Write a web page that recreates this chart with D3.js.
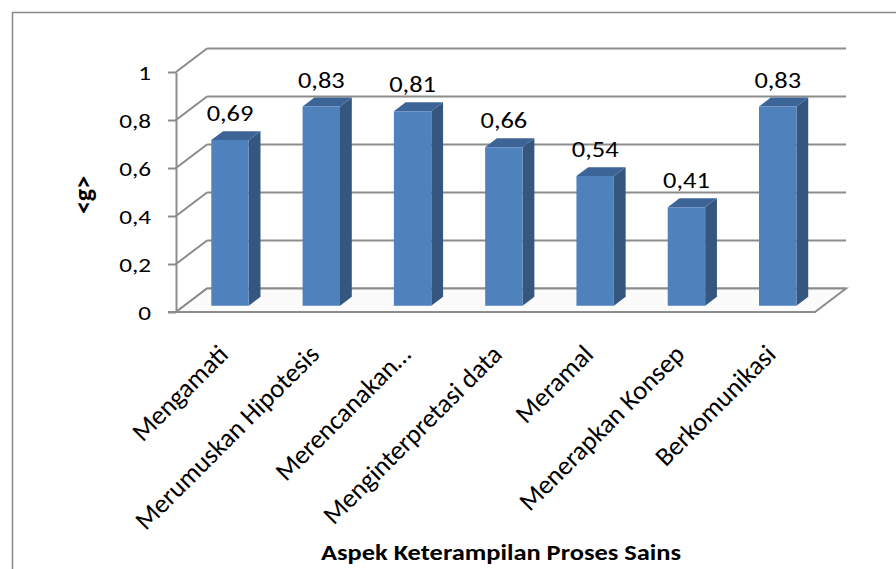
<!DOCTYPE html>
<html>
<head>
<meta charset="utf-8">
<script src="https://cdn.jsdelivr.net/npm/d3@7"></script>
<style>
  html, body { margin: 0; padding: 0; background: #fff; }
  svg { display: block; }
  text { font-family: Carlito, Calibri, Lato, "Open Sans", sans-serif; fill: #000; }
</style>
</head>
<body>
<svg id="chart" width="896" height="569"></svg>
<script>
// Aspek keterampilan proses sains and their normalized gain <g>
const categories = [
  "Mengamati",
  "Merumuskan Hipotesis",
  "Merencanakan…",
  "Menginterpretasi data",
  "Meramal",
  "Menerapkan Konsep",
  "Berkomunikasi"
];
const gainValues = [0.69, 0.83, 0.81, 0.66, 0.54, 0.41, 0.83];
const yTicks = [0, 0.2, 0.4, 0.6, 0.8, 1];
const yTitle = "<g>";
const xTitle = "Aspek Keterampilan Proses Sains";

const svg = d3.select("#chart");
const grid = "#8c8c8c";

// decimal comma formatting
const locale = d3.formatLocale({ decimal: ",", thousands: ".", grouping: [3], currency: ["", ""] });
const fmtTick = locale.format("~g");
const fmtVal = locale.format(".2f");

// front plane scales
const x = d3.scaleBand().domain(categories).range([176, 815]).padding(0);
const y = d3.scaleLinear().domain([0, 1]).range([312, 72]);

// oblique depth projection: depth 0 = front plane, 1 = back wall
const DX = 31, DY = -23.5;
const proj = (px, py, d) => [px + DX * d, py + DY * d];

// chart area frame
svg.append("rect")
  .attr("x", 12.5).attr("y", 12.5)
  .attr("width", 900).attr("height", 600)
  .attr("fill", "none").attr("stroke", "#8a8a8a").attr("stroke-width", 1.5);

const [x0, x1] = x.range();

// back wall gridlines
const gBack = svg.append("g").attr("stroke", grid).attr("stroke-width", 2).attr("fill", "none");
yTicks.forEach(t => {
  const a = proj(x0, y(t), 1), b = proj(x1, y(t), 1);
  gBack.append("line").attr("x1", a[0]).attr("y1", a[1]).attr("x2", b[0]).attr("y2", b[1]);
});
// side wall gridlines
yTicks.forEach(t => {
  const b = proj(x0, y(t), 1);
  gBack.append("line").attr("x1", x0).attr("y1", y(t)).attr("x2", b[0]).attr("y2", b[1]);
});
// floor
const floorPts = [proj(x0, y(0), 0), proj(x1, y(0), 0), proj(x1, y(0), 1), proj(x0, y(0), 1)];
svg.append("polygon")
  .attr("points", floorPts.map(p => p.join(",")).join(" "))
  .attr("fill", "#fbfbfb").attr("stroke", grid).attr("stroke-width", 2);

// bars
const bw = x.bandwidth() * 0.41;
const D0 = 0.27, D1 = 0.65;
const bars = svg.append("g");
categories.forEach((c, i) => {
  const v = gainValues[i];
  const left = x(c) + (x.bandwidth() - bw) / 2;
  const right = left + bw;
  const top = y(v), base = y(0);
  const fTL = proj(left, top, D0), fTR = proj(right, top, D0);
  const fBR = proj(right, base, D0), fBL = proj(left, base, D0);
  const bTL = proj(left, top, D1), bTR = proj(right, top, D1), bBR = proj(right, base, D1);
  const poly = (pts, fill) => bars.append("polygon")
    .attr("points", pts.map(p => p.join(",")).join(" ")).attr("fill", fill);
  poly([fTR, bTR, bBR, fBR], "#34567f");           // side
  poly([fTL, fTR, bTR, bTL], "#3d6496");           // top
  poly([fTL, fTR, fBR, fBL], "#4f81bd");           // front
  // value label
  const cx = (fTL[0] + fTR[0]) / 2;
  svg.append("text")
    .attr("transform", `translate(${cx},${bTL[1] - 10}) scale(1.2,1)`)
    .attr("text-anchor", "middle")
    .style("font-size", "22px")
    .text(fmtVal(v));
});

// front value axis
const yAxis = d3.axisLeft(y).tickValues(yTicks).tickFormat(fmtTick)
  .tickSize(8).tickSizeOuter(0).tickPadding(17);
const ga = svg.append("g").attr("transform", `translate(${x0},0)`).call(yAxis);
ga.select(".domain").attr("stroke", grid).attr("stroke-width", 2);
ga.selectAll(".tick line").attr("stroke", grid).attr("stroke-width", 2);
ga.selectAll(".tick text")
  .attr("x", null).attr("dy", "0.35em")
  .attr("transform", "translate(-25,0) scale(1.2,1)")
  .style("font-size", "21px")
  .style("font-family", "Carlito, Calibri, Lato, 'Open Sans', sans-serif")
  .attr("fill", "#000");

// front baseline
svg.append("line")
  .attr("x1", x0 - 8).attr("y1", y(0)).attr("x2", x1).attr("y2", y(0))
  .attr("stroke", grid).attr("stroke-width", 2);

// category labels, rotated
categories.forEach(c => {
  const px = x(c) + x.bandwidth() / 2 + 8;
  svg.append("text")
    .attr("transform", `translate(${px},356) rotate(-45)`)
    .attr("text-anchor", "end")
    .style("font-size", "26.5px")
    .text(c);
});

// axis titles
svg.append("text")
  .attr("transform", "translate(92,195) rotate(-90)")
  .attr("text-anchor", "middle")
  .style("font-size", "26px").style("font-weight", "bold")
  .text(yTitle);

svg.append("text")
  .attr("transform", "translate(501,560) scale(1.15,1)")
  .attr("text-anchor", "middle")
  .style("font-size", "23px").style("font-weight", "bold")
  .text(xTitle);
</script>
</body>
</html>
